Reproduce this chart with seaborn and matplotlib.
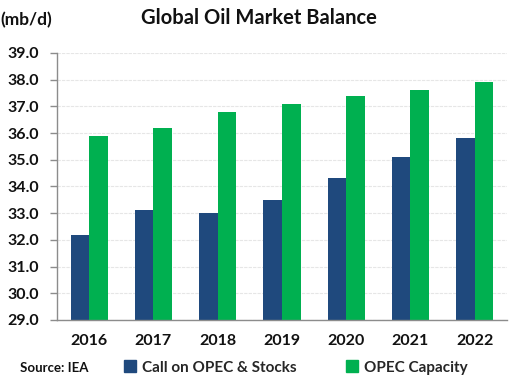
import numpy as np
import pandas as pd
import matplotlib.pyplot as plt
import seaborn as sns
from matplotlib.ticker import FixedLocator, MultipleLocator

# === DATA ===
years = ["2016", "2017", "2018", "2019", "2020", "2021", "2022"]
call_on_opec = [32.2, 33.1, 33.0, 33.5, 34.3, 35.1, 35.8]
opec_capacity = [35.9, 36.2, 36.8, 37.1, 37.4, 37.6, 37.9]
series_names = ["Call on OPEC & Stocks", "OPEC Capacity"]
colors = ["#1F497D", "#00B050"]

df = pd.DataFrame({
    "Year": years * 2,
    "Series": [series_names[0]] * len(years) + [series_names[1]] * len(years),
    "Value": call_on_opec + opec_capacity,
})

# === STYLE ===
sns.set_theme(style="white")
plt.rcParams["font.family"] = ["Lato", "DejaVu Sans"]

fig = plt.figure(figsize=(5.28, 3.86), dpi=100)
ax = fig.add_axes([0.108, 0.171, 0.852, 0.692])

sns.barplot(data=df, x="Year", y="Value", hue="Series", palette=colors,
            saturation=1, width=0.58, gap=0, ax=ax, legend=False,
            edgecolor="none", linewidth=0)

ax.set_ylim(29, 39)
ax.set_xlim(-0.5, len(years) - 0.5)
ax.yaxis.set_major_locator(MultipleLocator(1))
ax.set_yticklabels([f"{v:.1f}" for v in ax.get_yticks()])

ax.grid(axis="y", color="#e6e6e6", linewidth=0.8, linestyle=(0, (3, 1)))
ax.set_axisbelow(True)

for side in ["top", "right"]:
    ax.spines[side].set_visible(False)
for side in ["left", "bottom"]:
    ax.spines[side].set_color("#8c8c8c")
    ax.spines[side].set_linewidth(1.0)

ax.xaxis.set_minor_locator(FixedLocator(np.arange(-0.5, len(years), 1)))
ax.tick_params(axis="x", which="major", length=0, pad=10)
ax.tick_params(axis="x", which="minor", length=5, color="#8c8c8c", width=1, direction="out")
ax.tick_params(axis="y", length=5, color="#8c8c8c", width=1, direction="out", left=True, pad=8)

for lbl in ax.get_xticklabels() + ax.get_yticklabels():
    lbl.set_fontweight("bold")
    lbl.set_fontsize(11.5)
    lbl.set_color("#111111")

ax.set_xlabel("")
ax.set_ylabel("")

# Title and unit label
fig.text(0.49, 0.953, "Global Oil Market Balance", ha="center", va="center",
         fontsize=14.5, fontweight="bold", color="#111111")
fig.text(0.0, 0.947, "(mb/d)", ha="left", va="center",
         fontsize=12.5, fontweight="bold", color="#111111")
fig.text(0.038, 0.047, "Source: IEA", ha="left", va="center",
         fontsize=9.5, fontweight="bold", color="#111111")

handles = [plt.Rectangle((0, 0), 1, 1, color=c) for c in colors]
fig.legend(handles, series_names, loc="center", bbox_to_anchor=(0.56, 0.048),
           ncol=2, frameon=False, handlelength=0.8, handleheight=0.8,
           columnspacing=3.2, handletextpad=0.4,
           prop={"weight": "bold", "size": 11})

fig.savefig("out.png", dpi=100)
